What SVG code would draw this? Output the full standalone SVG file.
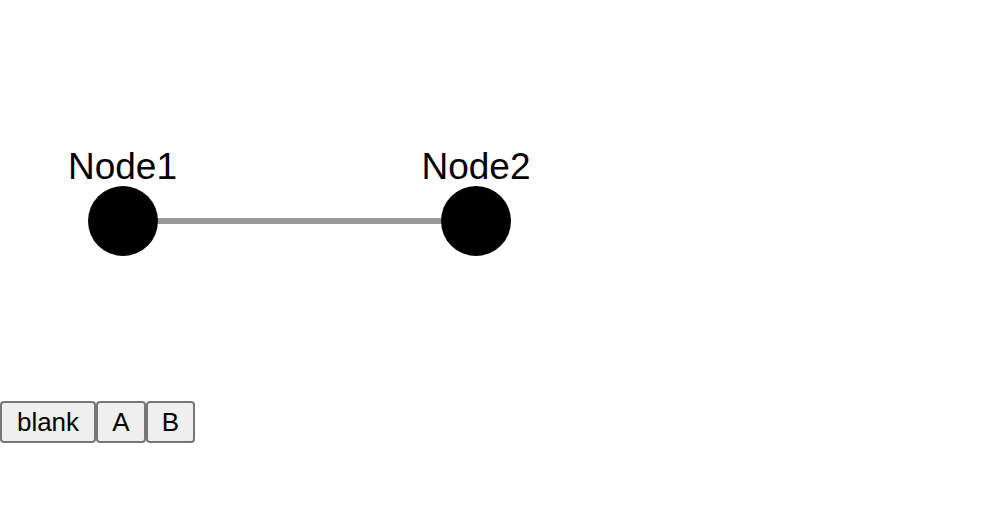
<svg xmlns="http://www.w3.org/2000/svg" width="1000" height="528" viewBox="0 0 1000 528">
<style>
.lbl{font-family:"Liberation Sans",Arial,sans-serif;font-size:37px;fill:#000;text-anchor:middle}
.node{fill:#000}
.edge{stroke:#999;stroke-width:6}
.btn rect{fill:#efefef;stroke:#767676;stroke-width:2}
.btn text{font-family:"Liberation Sans",Arial,sans-serif;font-size:26px;fill:#000;text-anchor:middle}
</style>
<rect width="1000" height="528" fill="#fff"/>
<g id="connectors">
<line class="edge" x1="123" y1="221" x2="476" y2="221"/>
</g>
<g id="node1">
<circle class="node" cx="123" cy="221" r="35"/>
<text class="lbl" x="122.5" y="179">Node1</text>
</g>
<g id="node2">
<circle class="node" cx="476" cy="221" r="35"/>
<text class="lbl" x="476" y="179">Node2</text>
</g>
<g id="buttons">
<g class="btn" id="btn-blank"><rect x="1" y="402" width="94" height="40" rx="3"/><text x="48" y="431">blank</text></g>
<g class="btn" id="btn-a"><rect x="97" y="402" width="48" height="40" rx="3"/><text x="121" y="431">A</text></g>
<g class="btn" id="btn-b"><rect x="147" y="402" width="47" height="40" rx="3"/><text x="170.5" y="431">B</text></g>
</g>
</svg>
